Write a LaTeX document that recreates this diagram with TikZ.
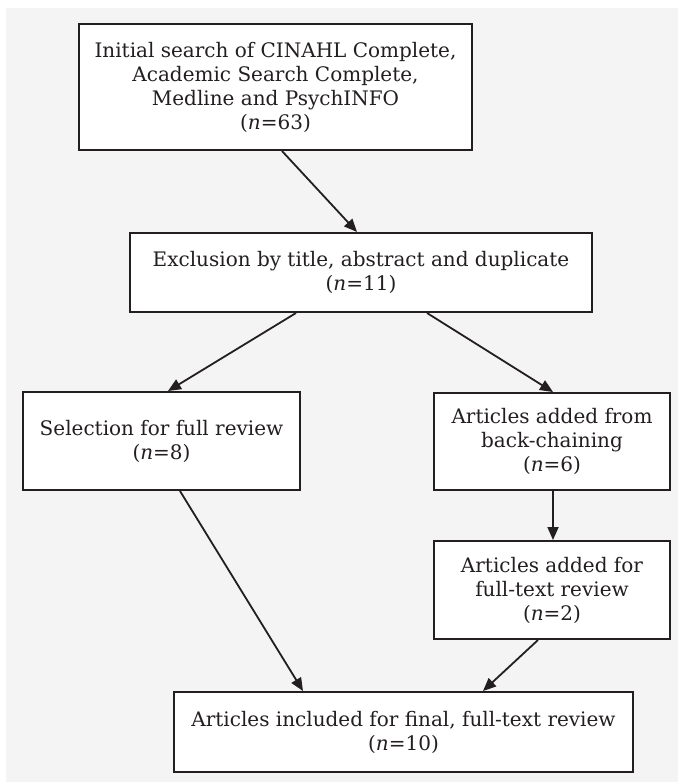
\documentclass[tikz,border=0pt]{standalone}
\usepackage{fontspec}
\setmainfont{DejaVu Serif}
\definecolor{inkgray}{RGB}{35, 31, 32}
\definecolor{panelgray}{RGB}{244, 244, 244}
\usetikzlibrary{arrows.meta, positioning}
\newcommand{\nn}[1]{(\textit{n}=#1)}
\tikzset{
  box/.style={draw=inkgray, line width=2pt, fill=white, align=center, text=inkgray,
    inner sep=0pt, font=\fontsize{20}{24}\selectfont},
  arr/.style={draw=inkgray, line width=1.8pt, -{Triangle[length=13pt, width=11pt]}}
}
\begin{document}
\begin{tikzpicture}[x=1pt, y=-1pt]
  % Panel
  \useasboundingbox (0,0) rectangle (678,782);
  \fill[panelgray] (6,8) rectangle (678,782);

  % Boxes
  \node[box, minimum width=393pt, minimum height=126pt] (init) at (275.5,87)
    {Initial search of CINAHL Complete,\\Academic Search Complete,\\Medline and PsychINFO\\\nn{63}};
  \node[box, minimum width=462pt, minimum height=79pt] (excl) at (361,272.5)
    {Exclusion by title, abstract and duplicate\\\nn{11}};
  \node[box, minimum width=277pt, minimum height=98pt] (sel) at (161.5,441)
    {Selection for full review\\\nn{8}};
  \node[box, minimum width=236pt, minimum height=97pt] (back) at (552,441.5)
    {Articles added from\\back-chaining\\\nn{6}};
  \node[box, minimum width=236pt, minimum height=98pt] (added) at (552,590)
    {Articles added for\\full-text review\\\nn{2}};
  \node[box, minimum width=459pt, minimum height=80pt] (final) at (403.5,732)
    {Articles included for final, full-text review\\\nn{10}};

  % Connectors
  \draw[arr] ([xshift=6.5pt]init.south) -- ([xshift=-4pt]excl.north);
  \draw[arr] ([xshift=-65pt]excl.south) -- ([xshift=6.5pt]sel.north);
  \draw[arr] ([xshift=66pt]excl.south) -- ([xshift=1pt]back.north);
  \draw[arr] ([xshift=1pt]back.south) -- ([xshift=1pt]added.north);
  \draw[arr] ([xshift=18.5pt]sel.south) -- ([xshift=-100.5pt]final.north);
  \draw[arr] ([xshift=-14pt]added.south) -- ([xshift=79.5pt]final.north);
\end{tikzpicture}
\end{document}
